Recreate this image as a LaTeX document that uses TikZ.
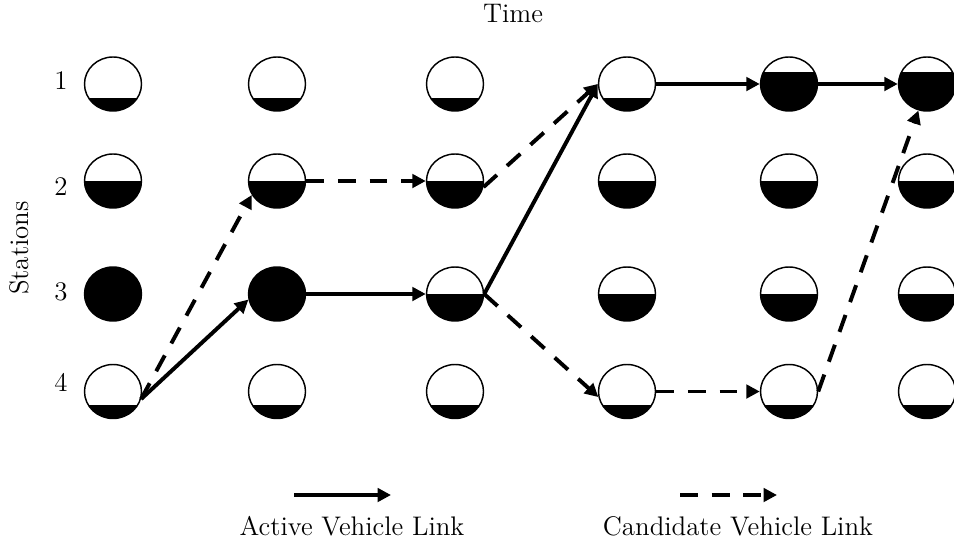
\documentclass[tikz,border=0pt]{standalone}
\usetikzlibrary{arrows.meta,shapes.geometric}
\begin{document}
\begin{tikzpicture}[x=0.017cm,y=-0.017cm,
  font=\fontsize{13}{15}\selectfont,
  station/.style={ellipse, draw, line width=0.7pt, inner sep=0pt,
    minimum width=0.969cm, minimum height=0.918cm},
  fillto/.style={path picture={\fill ([shift={(-40,#1)}]path picture bounding box.center)
      rectangle ([shift={(40,40)}]path picture bounding box.center);}},
  active/.style={line width=1.9pt, -{Triangle[length=6.5pt,width=6.5pt]}},
  candidate/.style={active, dash pattern=on 8.7pt off 6.6pt}]
\useasboundingbox (0,0) rectangle (954,544);

% axis titles and station numbers
\node (time) at (513,13.5) {Time};
\node[rotate=90] (stations) at (19,248) {Stations};
\node (l1) at (61,81) {1};
\node (l2) at (61,186.5) {2};
\node (l3) at (61,291.5) {3};
\node (l4) at (61,382.5) {4};

% stations over time, filled to their occupancy level
\foreach \c/\x/\lv in {1/113/13.5,2/277/13.5,3/455/13.5,4/627/13.5,5/789/-12.5,6/927/-12.5}
  \node[station, fillto=\lv] (s1\c) at (\x,84) {};
\foreach \c/\x in {1/113,2/277,3/455,4/627,5/789,6/927}
  \node[station, fillto=0] (s2\c) at (\x,181) {};
\foreach \c/\x/\lv in {1/113/-40,2/277/-40,3/455/0,4/627/0,5/789/0,6/927/0}
  \node[station, fillto=\lv] (s3\c) at (\x,294) {};
\foreach \c/\x in {1/113,2/277,3/455,4/627,5/789,6/927}
  \node[station, fillto=13.5] (s4\c) at (\x,391.5) {};

% active vehicle links
\draw[active] (s41.-15) -- (s32.191);
\draw[active] (s32.east) -- (s33.west);
\draw[active] (s33.east) -- (s14.west);
\draw[active] (s14.east) -- (s15.west);
\draw[active] (s15.east) -- (s16.west);

% candidate vehicle links
\draw[candidate] (s41.-15) -- (s22.209);
\draw[candidate] (s22.east) -- (s23.west);
\draw[candidate] (s23.-12) -- (s14.west);
\draw[candidate] (s33.east) -- (s44.191);
\draw[candidate] (s44.east) -- (s45.west);
\draw[candidate] (s45.east) -- (s16.252);

% legend
\coordinate (la0) at (294,495);
\coordinate (la1) at (391,495);
\draw[active] (la0) -- (la1);
\node (lat) at (352,526) {Active Vehicle Link};
\coordinate (lc0) at (680,495);
\coordinate (lc1) at (777,495);
\draw[candidate] (lc0) -- (lc1);
\node (lct) at (738,526) {Candidate Vehicle Link};
\end{tikzpicture}
\end{document}
